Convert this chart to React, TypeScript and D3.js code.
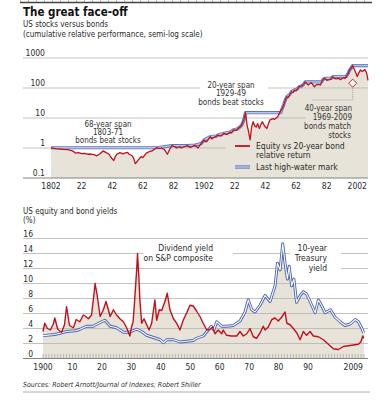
import * as d3 from 'd3';

const FONT = "'Liberation Sans Narrow', 'DejaVu Sans Condensed', 'Liberation Sans', Arial, sans-serif";
const RED = '#c0101c';
const BEIGE = '#e7e3d8';
const GRID = '#b4b4b4';
const INK = '#2a2a2a';

// equity vs 20-year bond cumulative relative return (1802 = 1)
const relReturn: [number, number][] = [
  [1802, 1.0], [1805, 0.95], [1808, 0.92], [1810, 0.9], [1813, 0.88], [1816, 0.8], [1818, 0.68],
  [1820, 0.7], [1822, 0.65], [1824, 0.66], [1826, 0.62], [1828, 0.63], [1830, 0.6], [1832, 0.55],
  [1834, 0.64], [1836, 0.8], [1838, 0.7], [1840, 0.62], [1841, 0.5], [1843, 0.38], [1844, 0.52],
  [1845, 0.62], [1847, 0.7], [1849, 0.64], [1850, 0.68], [1852, 0.72], [1853, 0.62], [1855, 0.55],
  [1856, 0.45], [1857, 0.3], [1858, 0.34], [1859, 0.4], [1861, 0.52], [1862, 0.48], [1864, 0.66],
  [1866, 0.75], [1868, 0.8], [1869, 0.88], [1871, 1.02], [1873, 0.95], [1874, 1.0], [1876, 0.9],
  [1878, 0.62], [1879, 0.8], [1880, 1.0], [1881, 1.2], [1883, 1.1], [1884, 1.0], [1886, 1.1],
  [1887, 1.0], [1889, 1.1], [1891, 1.2], [1893, 1.05], [1894, 1.1], [1896, 1.25], [1898, 1.0],
  [1900, 1.4], [1902, 1.85], [1903, 1.6], [1904, 1.7], [1906, 2.4], [1907, 2.0], [1908, 2.2],
  [1910, 2.5], [1911, 2.7], [1913, 2.5], [1915, 3.1], [1917, 2.8], [1919, 3.4], [1920, 3.2],
  [1921, 4.0], [1923, 3.9], [1924, 4.4], [1926, 5.4], [1927, 6.5], [1928, 9], [1929, 15],
  [1930, 6], [1931, 3.5], [1932, 1.85], [1933, 5], [1934, 7.5], [1935, 5.5], [1936, 5], [1937, 6.5],
  [1938, 4.5], [1939, 6], [1940, 7.5], [1941, 6], [1942, 5], [1943, 4.5], [1944, 6.5], [1945, 8.6],
  [1947, 9.5], [1948, 9], [1950, 11], [1951, 14], [1953, 21], [1954, 28], [1955, 40], [1956, 51],
  [1957, 48], [1958, 62], [1959, 75], [1960, 70], [1961, 86], [1962, 80], [1963, 95], [1964, 110],
  [1965, 115], [1966, 120], [1967, 135], [1968, 160], [1970, 126], [1971, 140], [1972, 150],
  [1974, 110], [1975, 125], [1976, 133], [1978, 126], [1979, 170], [1980, 200], [1981, 210],
  [1982, 180], [1984, 190], [1985, 210], [1986, 240], [1987, 210], [1988, 200], [1990, 210],
  [1991, 190], [1993, 220], [1994, 210], [1995, 255], [1996, 300], [1997, 400], [1998, 460],
  [1999, 560], [2000, 420], [2001, 330], [2002, 240], [2003, 320], [2004, 400], [2005, 360],
  [2006, 380], [2007, 410], [2008, 330], [2009, 180],
];

// last high-water mark of the relative return
const highWater: [number, number][] = [
  [1802, 1.02], [1871, 1.02], [1881, 1.2], [1891, 1.2], [1896, 1.25], [1900, 1.4], [1902, 1.85],
  [1906, 2.4], [1910, 2.5], [1911, 2.7], [1915, 3.1], [1919, 3.4], [1921, 4.0], [1924, 4.4],
  [1926, 5.4], [1927, 6.5], [1928, 9], [1929, 15], [1952, 15], [1953, 21], [1954, 28], [1955, 40],
  [1956, 51], [1958, 62], [1959, 75], [1961, 86], [1963, 95], [1964, 110], [1965, 115], [1966, 120],
  [1967, 135], [1968, 160], [1978.7, 160], [1979, 170], [1980, 200], [1981, 210], [1985, 210],
  [1986, 240], [1994.7, 240], [1995, 255], [1996, 300], [1997, 400], [1998, 460], [1999, 560],
  [2009, 560],
];

// dividend yield on S&P composite, %
const dividendYield: [number, number][] = [
  [1900, 3.6], [1900.6, 4.7], [1901.5, 4.0], [1902.5, 3.8], [1903.5, 4.6], [1904, 5.4], [1905, 3.9],
  [1906.3, 3.5], [1907.3, 4.5], [1908, 6.9], [1909, 4.4], [1910.3, 4.1], [1911.3, 5.2], [1912.5, 4.9],
  [1913.7, 5.8], [1914.5, 5.6], [1915.4, 5.3], [1916.5, 5.8], [1917.7, 10.0], [1918.4, 8.4],
  [1919.4, 5.6], [1920.5, 6.5], [1921.4, 7.6], [1922.2, 6.5], [1922.8, 5.6], [1923.9, 6.5],
  [1925, 5.8], [1926.1, 5.3], [1927.3, 4.9], [1928.4, 4.1], [1929.5, 3.0], [1930, 4.1], [1930.6, 4.9],
  [1931.2, 8.2], [1931.8, 11.8], [1932.1, 14.0], [1932.6, 10.4], [1932.9, 7.8], [1933.5, 4.7],
  [1934.3, 5.3], [1935.2, 4.5], [1936, 3.8], [1936.9, 4.7], [1938, 7.8], [1938.6, 5.1], [1939.5, 6.5],
  [1940.3, 6.4], [1941.4, 7.6], [1942.2, 8.7], [1943.1, 6.5], [1944.3, 5.3], [1945.4, 4.7],
  [1946.5, 3.8], [1947.6, 5.1], [1948.8, 6.1], [1949.9, 7.1], [1951, 7.0], [1952.2, 6.3],
  [1953.3, 5.6], [1954.4, 4.7], [1955.6, 3.8], [1956.7, 3.9], [1957.6, 4.2], [1958.4, 3.3],
  [1959.5, 3.8], [1960.7, 3.3], [1961.2, 3.8], [1962.3, 3.1], [1964, 3.0], [1965.8, 3.0],
  [1966.9, 3.6], [1968, 3.0], [1969.2, 3.3], [1970.3, 4.0], [1971.4, 2.9], [1972.5, 2.7],
  [1973.7, 3.4], [1974.8, 4.3], [1975.4, 3.8], [1976.5, 4.2], [1977.7, 5.2], [1978.8, 5.4],
  [1979.9, 5.0], [1981, 5.5], [1982.2, 6.2], [1982.8, 4.7], [1983.9, 4.5], [1985, 4.0], [1986.2, 3.4],
  [1987.3, 2.5], [1988.4, 3.6], [1989.5, 3.1], [1990.7, 3.6], [1991.8, 3.0], [1993.5, 2.9],
  [1995.2, 2.5], [1996.9, 1.9], [1998.6, 1.3], [2000.3, 1.2], [2002, 1.6], [2003.7, 1.7],
  [2005.4, 1.8], [2007.1, 1.9], [2007.9, 2.2], [2008.6, 3.0], [2008.9, 2.7],
];

// 10-year Treasury yield, %
const treasuryYield: [number, number][] = [
  [1900, 3.05], [1904, 3.2], [1908, 3.6], [1911, 3.7], [1912.6, 3.9], [1914.8, 4.3], [1917, 4.3],
  [1919.4, 4.8], [1921, 5.1], [1922.8, 4.3], [1925, 4.1], [1927.3, 3.5], [1929, 3.5], [1930, 3.6],
  [1931.8, 3.9], [1933.5, 3.6], [1935.2, 3.1], [1937.5, 2.8], [1939.8, 2.5], [1940.9, 2.1],
  [1942, 2.5], [1944.3, 2.5], [1946.5, 2.2], [1948.8, 2.3], [1951, 2.4], [1952.2, 2.7], [1954.4, 3.0],
  [1956.1, 3.8], [1957.2, 4.3], [1958, 3.8], [1959, 4.9], [1960.7, 4.3], [1962.3, 4.3],
  [1964.6, 4.4], [1966.9, 5.0], [1968.6, 6.2], [1969.7, 7.8], [1970.9, 6.5], [1972, 6.2],
  [1973.7, 7.1], [1975.4, 8.4], [1977.1, 7.6], [1978.8, 9.7], [1979.6, 12.7], [1980.5, 11.8],
  [1981.4, 15.3], [1982.2, 12.7], [1983, 10.6], [1983.6, 12.3], [1984.4, 9.7], [1985.2, 10.6],
  [1986.1, 7.5], [1987.3, 8.4], [1988.4, 8.9], [1989.5, 8.6], [1990.7, 7.6], [1992.4, 6.1],
  [1993.5, 7.8], [1994.7, 7.0], [1995.8, 6.1], [1997.6, 6.5], [1999.2, 5.5], [2000.9, 4.9],
  [2002.6, 4.4], [2004.3, 4.6], [2006, 5.2], [2007.1, 4.9], [2008.3, 4.0], [2008.9, 3.4],
];

const topGrid = [1, 10, 100, 1000];
const topGridLabels = ['1', '10', '100', '1000'];
const topTicks = [1802, 1822, 1842, 1862, 1882, 1902, 1922, 1942, 1962, 1982, 2002];
const topTickLabels = ['1802', '22', '42', '62', '82', '1902', '22', '42', '62', '82', '2002'];

const bottomGrid = [2, 4, 6, 8, 10, 12, 14, 16];
const bottomTicks = [1900, 1910, 1920, 1930, 1940, 1950, 1960, 1970, 1980, 1990];
const bottomTickLabels = ['1900', '10', '20', '30', '40', '50', '60', '70', '80', '90'];

const L = 23;
const R = 368;

export default function App() {
  const x1 = d3.scaleLinear().domain([1802, 2009]).range([51, 368]);
  const y1 = d3.scaleLog().domain([0.1, 1000]).range([178, 58]);
  const x2 = d3.scaleLinear().domain([1900, 2009]).range([43, 364]);
  const y2 = d3.scaleLinear().domain([0, 16]).range([358.5, 238.5]);

  const line1 = d3.line<[number, number]>().x((d) => x1(d[0])).y((d) => y1(d[1]));
  const area1 = d3.area<[number, number]>().x((d) => x1(d[0])).y0(y1(0.1)).y1((d) => y1(d[1]));
  const line2 = d3.line<[number, number]>().x((d) => x2(d[0])).y((d) => y2(d[1]));
  const area2 = d3.area<[number, number]>().x((d) => x2(d[0])).y0(y2(0)).y1((d) => y2(d[1]));

  const dx = x1(1999);
  const dy = y1(145);

  return (
    <div style={{ position: 'absolute', left: 0, top: 0 }}>
      <svg width={392} height={400} style={{ display: 'block', background: '#fff' }} fontFamily={FONT}>
        {/* top rule */}
        <line x1={20} x2={372} y1={2.5} y2={2.5} stroke="#444" strokeWidth={1.4} />
        <line x1={20} x2={372} y1={1} y2={1} stroke="#777" strokeWidth={1.2} strokeDasharray="1 7" />

        <text x={L} y={16} fontSize={11.5} fontWeight="bold" fill="#111">The great face-off</text>
        <text x={L} y={26.5} fontSize={8} fill={INK}>US stocks versus bonds</text>
        <text x={L} y={36.5} fontSize={8} fill={INK}>(cumulative relative performance, semi-log scale)</text>

        {/* top chart */}
        <path d={area1(relReturn) ?? ''} fill={BEIGE} />
        {topGrid.map((g, i) => (
          <g key={g}>
            <line x1={L} x2={R} y1={y1(g)} y2={y1(g)} stroke={GRID} strokeWidth={0.8} />
            <text x={45} y={y1(g) - 2} fontSize={8.5} textAnchor="end" fill={INK}>{topGridLabels[i]}</text>
          </g>
        ))}
        <line x1={L} x2={R} y1={y1(0.1)} y2={y1(0.1)} stroke="#777" strokeWidth={0.9} />
        <text x={45} y={y1(0.1) - 2} fontSize={8.5} textAnchor="end" fill={INK}>0.1</text>
        {topTicks.map((t, i) => (
          <text key={t} x={x1(t)} y={189} fontSize={8.5} textAnchor="middle" fill={INK}>{topTickLabels[i]}</text>
        ))}

        {/* knockouts behind labels */}
        <rect x={200} y={77} width={68} height={30} fill="#fff" />
        <rect x={306} y={103} width={62} height={36} fill={BEIGE} />
        <rect x={226} y={139} width={142} height={36} fill={BEIGE} />

        <path d={line1(highWater) ?? ''} fill="none" stroke="#5a73bd" strokeWidth={3.2} strokeLinejoin="round" />
        <path d={line1(highWater) ?? ''} fill="none" stroke="#b9c6ea" strokeWidth={1.5} strokeLinejoin="round" />
        <path d={line1(relReturn) ?? ''} fill="none" stroke={RED} strokeWidth={1.3} strokeLinejoin="round" />

        <g fontSize={8} fill="#333" textAnchor="middle">
          <text x={108} y={126.5}>68-year span</text>
          <text x={108} y={134.5}>1803-71</text>
          <text x={108} y={142.5}>bonds beat stocks</text>
          <text x={231} y={87.5}>20-year span</text>
          <text x={231} y={96}>1929-49</text>
          <text x={231} y={105}>bonds beat stocks</text>
        </g>
        <g fontSize={8} fill="#333" textAnchor="end">
          <text x={352} y={111}>40-year span</text>
          <text x={352} y={120}>1969-2009</text>
          <text x={351} y={129}>bonds match</text>
          <text x={351} y={137.5}>stocks</text>
        </g>
        <path d={`M${dx},${dy + 3}V100H312`} fill="none" stroke="#888" strokeWidth={0.7} strokeDasharray="1 1" />
        <path d={`M${dx},${dy - 4}l4,4l-4,4l-4,-4z`} fill="#fff" stroke={RED} strokeWidth={0.9} />

        {/* legend */}
        <line x1={235} x2={250} y1={146} y2={146} stroke={RED} strokeWidth={1.8} />
        <text x={256} y={149} fontSize={8.5} fill={INK}>Equity vs 20-year bond</text>
        <text x={256} y={158} fontSize={8.5} fill={INK}>relative return</text>
        <line x1={235} x2={250} y1={167} y2={167} stroke="#5a73bd" strokeWidth={3.2} />
        <line x1={235} x2={250} y1={167} y2={167} stroke="#b9c6ea" strokeWidth={1.5} />
        <text x={256} y={170} fontSize={8.5} fill={INK}>Last high-water mark</text>

        {/* bottom chart */}
        <text x={L} y={214} fontSize={8} fill={INK}>US equity and bond yields</text>
        <text x={L} y={223} fontSize={8} fill={INK}>(%)</text>

        <path d={area2(dividendYield) ?? ''} fill={BEIGE} />
        <path d={area2(treasuryYield) ?? ''} fill={BEIGE} />
        {bottomGrid.map((g) => (
          <g key={g}>
            <line x1={L} x2={R} y1={y2(g)} y2={y2(g)} stroke={GRID} strokeWidth={0.8} />
            <text x={33} y={y2(g) - 2} fontSize={8.5} textAnchor="end" fill={INK}>{g}</text>
          </g>
        ))}
        <text x={33} y={y2(0) - 2} fontSize={8.5} textAnchor="end" fill={INK}>0</text>
        {d3.range(1900, 2010).map((yr) => (
          <line key={yr} x1={x2(yr)} x2={x2(yr)} y1={y2(0)} y2={y2(0) - 4.5} stroke="#a5a39c" strokeWidth={0.7} />
        ))}
        <line x1={L} x2={R} y1={y2(0)} y2={y2(0)} stroke="#777" strokeWidth={0.9} />
        {bottomTicks.map((t, i) => (
          <text key={t} x={x2(t)} y={370} fontSize={8.5} textAnchor="middle" fill={INK}>{bottomTickLabels[i]}</text>
        ))}
        <text x={x2(2009) - 1} y={370} fontSize={8.5} textAnchor="end" fill={INK}>2009</text>

        <rect x={143} y={243} width={90} height={19} fill="#fff" />
        <rect x={290} y={242} width={51} height={30} fill="#fff" />

        <path d={line2(treasuryYield) ?? ''} fill="none" stroke="#4862b2" strokeWidth={2.9} strokeLinejoin="round" />
        <path d={line2(treasuryYield) ?? ''} fill="none" stroke="#fff" strokeWidth={1.1} strokeLinejoin="round" />
        <path d={line2(dividendYield) ?? ''} fill="none" stroke={RED} strokeWidth={1.4} strokeLinejoin="round" />

        <g fontSize={8.5} fill={INK} textAnchor="end">
          <text x={213} y={251}>Dividend yield</text>
          <text x={213} y={261}>on S&amp;P composite</text>
          <text x={327} y={251}>10-year</text>
          <text x={327} y={261}>Treasury</text>
          <text x={327} y={271}>yield</text>
        </g>

        <text x={L} y={387} fontSize={7} fontStyle="italic" fill="#333">
          Sources: Robert Arnott/Journal of Indexes; Robert Shiller
        </text>
        <line x1={L} x2={370} y1={392} y2={392} stroke="#999" strokeWidth={0.8} />
      </svg>
    </div>
  );
}
